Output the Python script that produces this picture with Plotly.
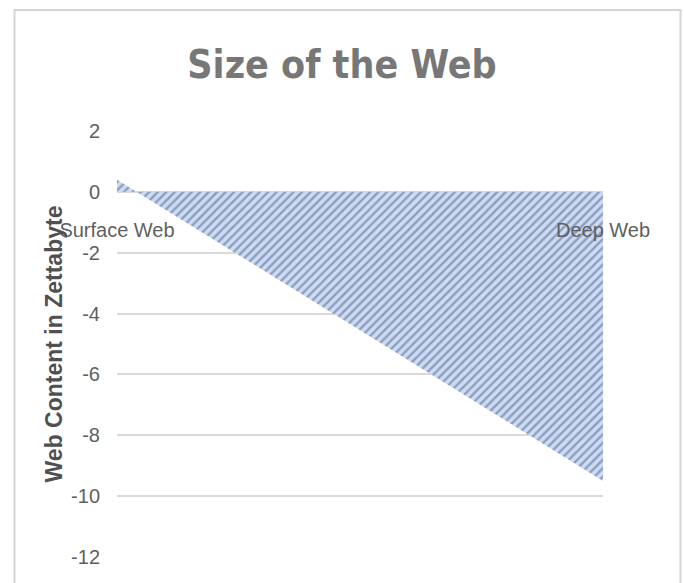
import plotly.graph_objects as go

# Chart data
categories = ["Surface Web", "Deep Web"]
content_zb = [0.4, -9.5]
y_ticks = [2, 0, -2, -4, -6, -8, -10, -12]

W, H = 684, 583
L, R, T, B = 117, 81, 131, 26
plot_w = W - L - R
plot_h = H - T - B

y_min, y_max = -12, 2

fig = go.Figure()
fig.add_trace(go.Scatter(
    x=categories,
    y=content_zb,
    mode="lines",
    line=dict(width=0, color="#4f6ea8"),
    fill="tozeroy",
    fillcolor="#cddbf3",
    fillpattern=dict(shape="/", fgcolor="#4a5f8c", bgcolor="#cddbf3",
                     size=6, solidity=0.4),
    hoverinfo="x+y",
    showlegend=False,
))

# chart-area border (light gray frame around the whole chart)
def px_to_paper_x(px):
    return (px - L) / plot_w

def px_to_paper_y(py):
    return (H - B - py) / plot_h

fig.add_shape(type="rect", xref="paper", yref="paper",
              x0=px_to_paper_x(14.5), x1=px_to_paper_x(680.5),
              y0=px_to_paper_y(600), y1=px_to_paper_y(10),
              line=dict(color="#d4d4d4", width=2), fillcolor="rgba(0,0,0,0)",
              layer="below")

fig.update_layout(
    width=W, height=H,
    margin=dict(l=L, r=R, t=T, b=B, pad=0),
    paper_bgcolor="white",
    plot_bgcolor="white",
    title=dict(
        text="<b>Size of the Web</b>",
        x=0.5, xanchor="center",
        y=1 - 64 / H, yanchor="middle",
        font=dict(family="DejaVu Sans Condensed, DejaVu Sans, sans-serif",
                  size=39, color="#777777"),
    ),
    xaxis=dict(
        type="category",
        range=[0, 1],
        anchor="free",
        position=(0 - y_min) / (y_max - y_min),
        showgrid=False,
        showline=False,
        zeroline=False,
        ticks="",
        ticklabelstandoff=24,
        tickfont=dict(family="Liberation Sans, Arial, sans-serif", size=20, color="#5f5f5f"),
    ),
    yaxis=dict(
        range=[y_min, y_max],
        tickvals=y_ticks,
        ticktext=[str(v) for v in y_ticks],
        showgrid=True,
        gridcolor="#d9d9d9",
        gridwidth=1.5,
        zeroline=False,
        showline=False,
        ticks="",
        ticklabelstandoff=16,
        tickfont=dict(family="Liberation Sans, Arial, sans-serif", size=20, color="#5f5f5f"),
        title=dict(
            text="<b>Web Content in Zettabyte</b>",
            standoff=2,
            font=dict(family="Liberation Sans, Arial, sans-serif", size=23, color="#505050"),
        ),
        automargin=False,
    ),
)

fig.write_html("out.html")
